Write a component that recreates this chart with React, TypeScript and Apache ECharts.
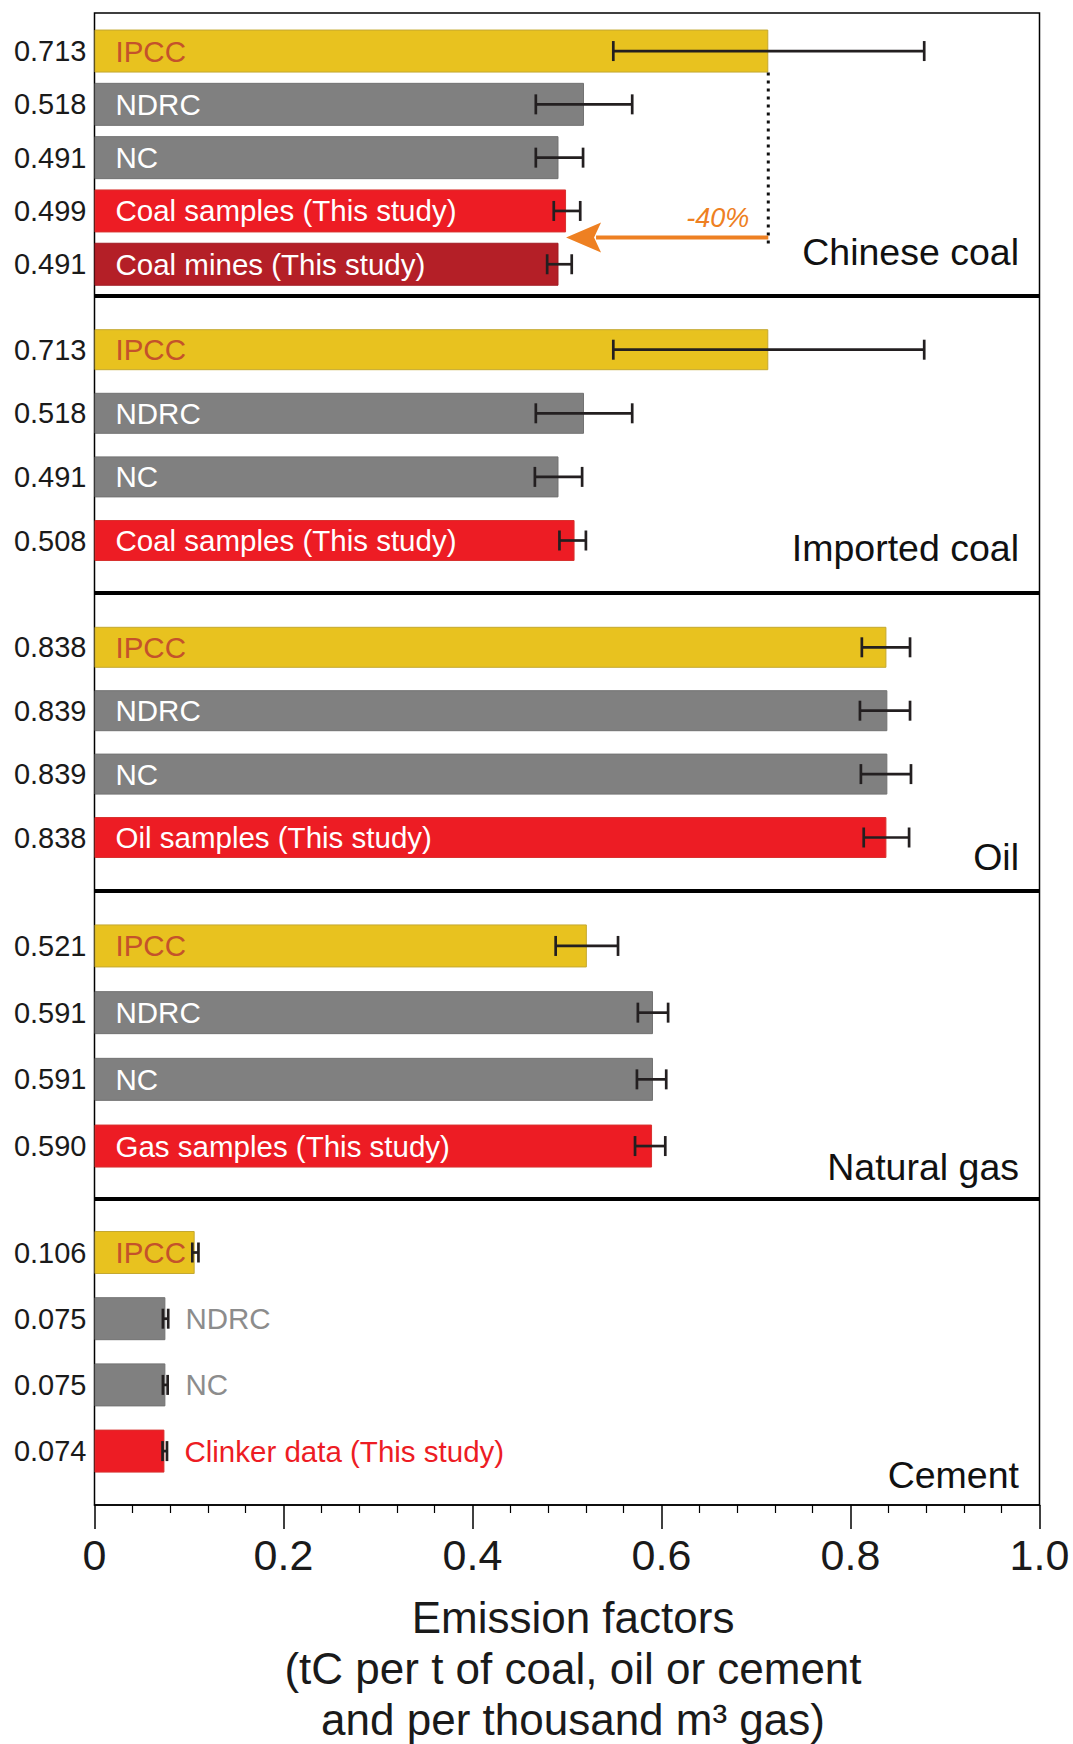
import React, { useEffect, useRef } from "react";
import * as echarts from "echarts";

// ---------------- DATA ----------------
const panelTitles = ["Chinese coal", "Imported coal", "Oil", "Natural gas", "Cement"];

const chineseCoalNames = ["IPCC", "NDRC", "NC", "Coal samples (This study)", "Coal mines (This study)"];
const chineseCoalValues = [0.713, 0.518, 0.491, 0.499, 0.491];
const chineseCoalLow = [0.549, 0.467, 0.467, 0.486, 0.479];
const chineseCoalHigh = [0.878, 0.569, 0.517, 0.514, 0.505];
const chineseCoalKinds = ["ipcc", "gov", "gov", "study", "mines"];

const importedCoalNames = ["IPCC", "NDRC", "NC", "Coal samples (This study)"];
const importedCoalValues = [0.713, 0.518, 0.491, 0.508];
const importedCoalLow = [0.549, 0.467, 0.466, 0.492];
const importedCoalHigh = [0.878, 0.569, 0.516, 0.52];
const importedCoalKinds = ["ipcc", "gov", "gov", "study"];

const oilNames = ["IPCC", "NDRC", "NC", "Oil samples (This study)"];
const oilValues = [0.838, 0.839, 0.839, 0.838];
const oilLow = [0.812, 0.81, 0.811, 0.814];
const oilHigh = [0.863, 0.863, 0.864, 0.862];
const oilKinds = ["ipcc", "gov", "gov", "study"];

const gasNames = ["IPCC", "NDRC", "NC", "Gas samples (This study)"];
const gasValues = [0.521, 0.591, 0.591, 0.59];
const gasLow = [0.488, 0.575, 0.574, 0.572];
const gasHigh = [0.554, 0.607, 0.605, 0.604];
const gasKinds = ["ipcc", "gov", "gov", "study"];

const cementNames = ["IPCC", "NDRC", "NC", "Clinker data (This study)"];
const cementValues = [0.106, 0.075, 0.075, 0.074];
const cementLow = [0.1035, 0.0724, 0.0724, 0.072];
const cementHigh = [0.11, 0.078, 0.0774, 0.0767];
const cementKinds = ["ipcc", "gov", "gov", "study"];

const xTickValues = [0, 0.2, 0.4, 0.6, 0.8, 1.0];
const xTickLabels = ["0", "0.2", "0.4", "0.6", "0.8", "1.0"];
const xAxisTitle = "Emission factors\n(tC per t of coal, oil or cement\nand per thousand m\u00B3 gas)";
const arrowLabel = "-40%";

// ---------------- STYLE / LAYOUT ----------------
const FONT = "'Liberation Sans', Arial, Helvetica, sans-serif";
const LEFT = 94.5;
const RIGHT_EDGE = 1039.5;
const PLOT_TOP = 13;
const PLOT_BOTTOM = 1505;

const panelGridTop = [24.4, 317.9, 615.6, 912.6, 1219.4];
const panelGridHeight = [266.5, 254.4, 253.6, 266.8, 264.8];
const panelBarWidth = [43, 41, 41, 43, 43];
const dividerY = [296, 593, 891, 1199];
const titleBaseline = [265, 561, 870, 1180, 1488];
const outsideLabelPanels = [false, false, false, false, true];

const fillColor: Record<string, string> = {
  ipcc: "#E8C21F",
  gov: "#808080",
  study: "#ED1C24",
  mines: "#B41F27",
};
const borderColor: Record<string, string> = {
  ipcc: "#C4A830",
  gov: "#727272",
  study: "#D8322F",
  mines: "#A21C24",
};
const insideLabelColor: Record<string, string> = {
  ipcc: "#C4522B",
  gov: "#FFFFFF",
  study: "#FFFFFF",
  mines: "#FFFFFF",
};
const outsideLabelColor: Record<string, string> = {
  ipcc: "#C4522B",
  gov: "#8C8C8C",
  study: "#ED1C24",
  mines: "#B41F27",
};
const ORANGE = "#EE8022";

const panels = [
  { names: chineseCoalNames, values: chineseCoalValues, low: chineseCoalLow, high: chineseCoalHigh, kinds: chineseCoalKinds },
  { names: importedCoalNames, values: importedCoalValues, low: importedCoalLow, high: importedCoalHigh, kinds: importedCoalKinds },
  { names: oilNames, values: oilValues, low: oilLow, high: oilHigh, kinds: oilKinds },
  { names: gasNames, values: gasValues, low: gasLow, high: gasHigh, kinds: gasKinds },
  { names: cementNames, values: cementValues, low: cementLow, high: cementHigh, kinds: cementKinds },
];

function errorBarRender(params: any, api: any) {
  const idx = api.value(2);
  const p1 = api.coord([api.value(0), idx]);
  const p2 = api.coord([api.value(1), idx]);
  const h = 10;
  const style = { stroke: "#231F20", lineWidth: 2.7 };
  return {
    type: "group",
    children: [
      { type: "line", shape: { x1: p1[0], y1: p1[1], x2: p2[0], y2: p2[1] }, style },
      { type: "line", shape: { x1: p1[0], y1: p1[1] - h, x2: p1[0], y2: p1[1] + h }, style },
      { type: "line", shape: { x1: p2[0], y1: p2[1] - h, x2: p2[0], y2: p2[1] + h }, style },
    ],
  };
}

function annotationRender(params: any, api: any) {
  const fromV = api.value(0);
  const toV = api.value(1);
  const fromC = api.value(2);
  const toC = api.value(3);
  const band = api.size([0, 1])[1];
  const start = api.coord([fromV, fromC]);
  const tip = api.coord([toV, toC]);
  const arrowY = tip[1] + band / 2;
  const barHalf = panelBarWidth[0] / 2;
  return {
    type: "group",
    children: [
      {
        type: "line",
        shape: { x1: start[0], y1: start[1] + barHalf, x2: start[0], y2: arrowY + 7 },
        style: { stroke: "#111", lineWidth: 3, lineDash: [3, 5] },
      },
      {
        type: "line",
        shape: { x1: start[0], y1: arrowY, x2: tip[0] + 30, y2: arrowY },
        style: { stroke: ORANGE, lineWidth: 4 },
      },
      {
        type: "polygon",
        shape: {
          points: [
            [tip[0], arrowY],
            [tip[0] + 35, arrowY - 15],
            [tip[0] + 28, arrowY],
            [tip[0] + 35, arrowY + 15],
          ],
        },
        style: { fill: ORANGE },
      },
      {
        type: "text",
        x: start[0] - 19,
        y: arrowY - 20,
        style: {
          text: arrowLabel,
          fill: ORANGE,
          fontSize: 27,
          fontStyle: "italic",
          fontFamily: FONT,
          align: "right",
          verticalAlign: "middle",
        },
      },
    ],
  };
}

function buildOption(): any {
  const grid: any[] = [];
  const xAxis: any[] = [];
  const yAxis: any[] = [];
  const series: any[] = [];

  panels.forEach((p, i) => {
    grid.push({
      left: LEFT,
      right: 1073 - RIGHT_EDGE,
      top: panelGridTop[i],
      height: panelGridHeight[i],
      containLabel: false,
      outerBoundsMode: "none",
    });
    xAxis.push({ type: "value", gridIndex: i, min: 0, max: 1, show: false });
    yAxis.push({
      type: "category",
      gridIndex: i,
      inverse: true,
      data: p.names,
      axisLine: { show: false },
      axisTick: { show: false },
      splitLine: { show: false },
      axisLabel: {
        formatter: (_v: string, idx: number) => p.values[idx].toFixed(3),
        fontSize: 29,
        color: "#1A1A1A",
        margin: 8,
        fontFamily: FONT,
      },
    });
    series.push({
      type: "bar",
      xAxisIndex: i,
      yAxisIndex: i,
      barWidth: panelBarWidth[i],
      silent: true,
      data: p.values.map((v, j) => {
        const kind = p.kinds[j];
        const outside = outsideLabelPanels[i] && kind !== "ipcc";
        return {
          value: v,
          itemStyle: { color: fillColor[kind], borderColor: borderColor[kind], borderWidth: 1 },
          label: outside
            ? { show: true, position: "right", distance: 20, color: outsideLabelColor[kind] }
            : { show: true, position: "insideLeft", distance: 21, color: insideLabelColor[kind] },
        };
      }),
      label: { show: true, formatter: "{b}", fontSize: 29.5, fontFamily: FONT },
      z: 2,
    });
    series.push({
      type: "custom",
      xAxisIndex: i,
      yAxisIndex: i,
      renderItem: errorBarRender,
      data: p.low.map((l, j) => [l, p.high[j], j]),
      encode: { x: [0, 1], y: 2 },
      silent: true,
      clip: false,
      z: 5,
    });
  });

  // annotation (Chinese coal: IPCC -> this study)
  series.push({
    type: "custom",
    xAxisIndex: 0,
    yAxisIndex: 0,
    renderItem: annotationRender,
    data: [[chineseCoalValues[0], chineseCoalValues[3], 0, 3]],
    encode: { x: [0, 1], y: 2 },
    silent: true,
    clip: false,
    z: 6,
  });

  // frame grid with shared x axis
  const fi = panels.length;
  grid.push({
    left: LEFT,
    right: 1073 - RIGHT_EDGE,
    top: PLOT_TOP,
    height: PLOT_BOTTOM - PLOT_TOP,
    show: true,
    borderColor: "#000",
    borderWidth: 1.5,
    backgroundColor: "transparent",
    containLabel: false,
    outerBoundsMode: "none",
  });
  xAxis.push({
    type: "value",
    gridIndex: fi,
    min: xTickValues[0],
    max: xTickValues[xTickValues.length - 1],
    interval: 0.2,
    position: "bottom",
    axisLine: { show: true, lineStyle: { color: "#000", width: 1.5 } },
    axisTick: { show: true, length: 24, lineStyle: { color: "#000", width: 1.5 } },
    minorTick: { show: true, splitNumber: 5, length: 8, lineStyle: { color: "#000", width: 1.2 } },
    splitLine: { show: false },
    minorSplitLine: { show: false },
    axisLabel: {
      formatter: (v: number) => {
        const k = xTickValues.findIndex((t) => Math.abs(t - v) < 1e-9);
        return k >= 0 ? xTickLabels[k] : "";
      },
      fontSize: 43,
      color: "#1A1A1A",
      margin: 28,
      fontFamily: FONT,
    },
    name: xAxisTitle,
    nameLocation: "middle",
    nameGap: 87,
    nameTextStyle: {
      fontSize: 44,
      lineHeight: 51,
      color: "#1A1A1A",
      fontFamily: FONT,
      padding: [0, 0, 0, 12],
    },
  });
  yAxis.push({ type: "value", gridIndex: fi, min: 0, max: 1, show: false });

  const graphic: any[] = [];
  dividerY.forEach((y) => {
    graphic.push({
      type: "line",
      shape: { x1: LEFT, y1: y, x2: RIGHT_EDGE, y2: y },
      style: { stroke: "#000", lineWidth: 4 },
      z: 10,
    });
  });
  panelTitles.forEach((t, i) => {
    graphic.push({
      type: "text",
      x: 1019,
      y: titleBaseline[i] - 13,
      style: {
        text: t,
        fontSize: 37.5,
        fill: "#111",
        fontFamily: FONT,
        align: "right",
        verticalAlign: "middle",
      },
      z: 10,
    });
  });

  return {
    animation: false,
    backgroundColor: "#ffffff",
    textStyle: { fontFamily: FONT },
    grid,
    xAxis,
    yAxis,
    series,
    graphic,
  };
}

export default function App() {
  const ref = useRef<HTMLDivElement>(null);
  useEffect(() => {
    document.body.style.margin = "0";
    if (!ref.current) return;
    const chart = echarts.init(ref.current, undefined, { renderer: "svg" });
    chart.setOption(buildOption());
    return () => {
      chart.dispose();
    };
  }, []);
  return (
    <div
      ref={ref}
      style={{ position: "absolute", left: 0, top: 0, width: 1073, height: 1744, background: "#fff" }}
    />
  );
}
